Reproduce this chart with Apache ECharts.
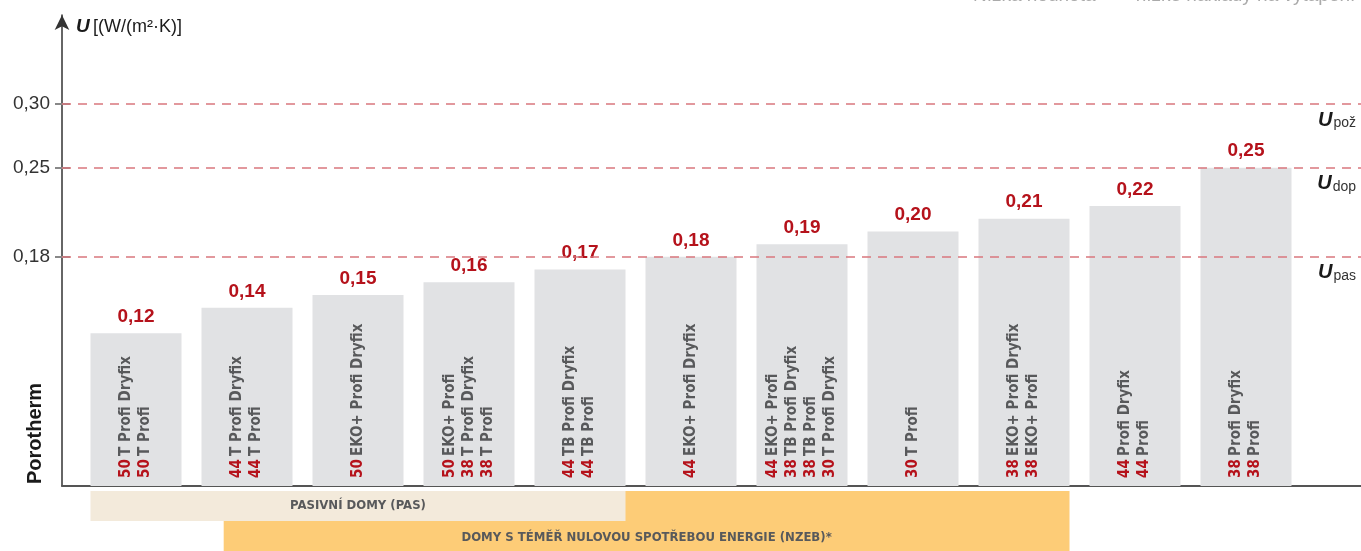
<!DOCTYPE html>
<html>
<head>
<meta charset="utf-8">
<script src="https://cdn.jsdelivr.net/npm/echarts@6/dist/echarts.min.js"></script>
<style>
  html, body { margin: 0; padding: 0; background: #fff; }
  #chart { width: 1361px; height: 551px; }
</style>
</head>
<body>
<div id="chart"></div>
<script>
// data
const categories = [
  '50 T Profi Dryfix\n50 T Profi',
  '44 T Profi Dryfix\n44 T Profi',
  '50 EKO+ Profi Dryfix',
  '50 EKO+ Profi\n38 T Profi Dryfix\n38 T Profi',
  '44 TB Profi Dryfix\n44 TB Profi',
  '44 EKO+ Profi Dryfix',
  '44 EKO+ Profi\n38 TB Profi Dryfix\n38 TB Profi\n30 T Profi Dryfix',
  '30 T Profi',
  '38 EKO+ Profi Dryfix\n38 EKO+ Profi',
  '44 Profi Dryfix\n44 Profi',
  '38 Profi Dryfix\n38 Profi'
];
const uValues = [0.12, 0.14, 0.15, 0.16, 0.17, 0.18, 0.19, 0.20, 0.21, 0.22, 0.25];

const tickValues = [0.18, 0.25, 0.30];
const limitValues = [0.30, 0.25, 0.18];
const limitNames = ['pož', 'dop', 'pas'];

// bands below the axis, in category units
const bandNames = ['DOMY S TÉMĚŘ NULOVOU SPOTŘEBOU ENERGIE (NZEB)*', 'PASIVNÍ DOMY (PAS)'];
const bandFrom = [0.79, -0.41];
const bandTo = [8.41, 4.41];

const RED = '#b5121b';
const GREY_TXT = '#58595b';
const NARROW = '"Liberation Sans Narrow", "DejaVu Sans Condensed", "Roboto", sans-serif';
const SANS = '"Liberation Sans", Arial, sans-serif';

const fmt = v => v.toFixed(2).replace('.', ',');

const catLabel = value =>
  value
    .split('\n')
    .map(line => {
      const i = line.indexOf(' ');
      return `{n|${line.slice(0, i)}} {t|${line.slice(i + 1)}}`;
    })
    .join('\n');

const chart = echarts.init(document.getElementById('chart'));

const yMax = 0.37;

chart.setOption({
  animation: false,
  grid: [
    { left: 80.5, right: 59.5, top: 15, bottom: 65 },
    { left: 62, right: 0, top: 15, bottom: 65 },
    { left: 80.5, right: 59.5, top: 491, bottom: 0 }
  ],
  xAxis: [
    {
      gridIndex: 0,
      type: 'category',
      data: categories,
      z: 5,
      axisLine: { show: false },
      axisTick: { show: false },
      axisLabel: {
        inside: true,
        rotate: 90,
        interval: 0,
        margin: 8,
        align: 'left',
        verticalAlign: 'middle',
        formatter: catLabel,
        rich: {
          n: { color: RED, fontFamily: NARROW, fontWeight: 'bold', fontSize: 15, lineHeight: 19 },
          t: { color: GREY_TXT, fontFamily: NARROW, fontWeight: 'bold', fontSize: 15, lineHeight: 19 }
        }
      }
    },
    {
      gridIndex: 1,
      type: 'value',
      min: 0,
      max: 1,
      axisLine: { show: true, lineStyle: { color: '#555', width: 2 } },
      axisTick: { show: false },
      axisLabel: { show: false },
      splitLine: { show: false }
    },
    {
      gridIndex: 2,
      type: 'value',
      min: -0.5,
      max: 10.5,
      show: false
    }
  ],
  yAxis: [
    { gridIndex: 0, type: 'value', min: 0, max: yMax, show: false },
    {
      gridIndex: 1,
      type: 'value',
      min: 0,
      max: yMax,
      name: '{b|U} {r|[(W/(m²·K)]}',
      nameLocation: 'end',
      nameGap: -12,
      nameTextStyle: {
        align: 'left',
        verticalAlign: 'middle',
        padding: [0, 0, 0, 14],
        rich: {
          b: { fontFamily: SANS, fontWeight: 'bold', fontStyle: 'italic', fontSize: 19, color: '#1a1a1a' },
          r: { fontFamily: SANS, fontSize: 18, color: '#1a1a1a' }
        }
      },
      axisLine: {
        show: true,
        symbol: ['none', 'arrow'],
        symbolSize: [11, 15],
        lineStyle: { color: '#333', width: 1.5 }
      },
      axisTick: {
        show: true,
        length: 7,
        customValues: tickValues,
        lineStyle: { color: '#888', width: 2 }
      },
      axisLabel: {
        customValues: tickValues,
        margin: 12,
        formatter: v => fmt(v),
        fontFamily: SANS,
        fontSize: 19,
        color: '#333'
      },
      splitLine: { show: false }
    },
    {
      gridIndex: 1,
      type: 'value',
      min: 0,
      max: yMax,
      position: 'left',
      axisLine: { show: false },
      axisTick: {
        show: true,
        inside: true,
        length: 8,
        customValues: tickValues,
        lineStyle: { color: '#888', width: 2 }
      },
      axisLabel: { show: false },
      splitLine: { show: false }
    },
    { gridIndex: 2, type: 'value', min: 0, max: 2, inverse: true, show: false }
  ],
  graphic: [
    {
      type: 'text',
      x: 35,
      y: 484,
      rotation: Math.PI / 2,
      style: {
        text: 'Porotherm',
        fontFamily: SANS,
        fontWeight: 'bold',
        fontSize: 20,
        fill: '#1a1a1a',
        textAlign: 'left',
        textVerticalAlign: 'middle'
      }
    },
    {
      type: 'text',
      x: 973,
      y: -14,
      style: {
        text: 'Nízká hodnota  →  nízké náklady na vytápění',
        fontFamily: SANS,
        fontSize: 19,
        fill: '#aaa'
      }
    }
  ],
  series: [
    {
      type: 'bar',
      xAxisIndex: 0,
      yAxisIndex: 0,
      data: uValues,
      barWidth: 91,
      itemStyle: { color: '#e1e2e4' },
      label: {
        show: true,
        position: 'top',
        distance: 7,
        formatter: p => fmt(p.value),
        fontFamily: SANS,
        fontWeight: 'bold',
        fontSize: 19,
        color: RED
      },
      z: 2
    },
    {
      type: 'line',
      xAxisIndex: 1,
      yAxisIndex: 1,
      data: [],
      z: 6,
      markLine: {
        silent: true,
        symbol: ['none', 'none'],
        lineStyle: { color: '#d9777d', type: [9, 7], width: 1.5 },
        label: {
          position: 'insideEndBottom',
          distance: [5, 6],
          formatter: p => `{u|U}{s|${p.name}}`,
          rich: {
            u: { fontFamily: SANS, fontWeight: 'bold', fontStyle: 'italic', fontSize: 20, color: '#1a1a1a' },
            s: { fontFamily: SANS, fontSize: 14, color: '#333', padding: [6, 0, 0, 1] }
          }
        },
        data: limitValues.map((v, i) => ({ yAxis: v, name: limitNames[i] }))
      }
    },
    {
      type: 'custom',
      xAxisIndex: 2,
      yAxisIndex: 3,
      data: bandNames.map((n, i) => [bandFrom[i], bandTo[i], i]),
      renderItem: (params, api) => {
        const i = api.value(2);
        const isPas = i === 1;
        const a = api.coord([api.value(0), 0]);
        const b = api.coord([api.value(1), isPas ? 1 : 2]);
        const labelY = api.coord([0, isPas ? 0.5 : 1.55])[1];
        return {
          type: 'group',
          children: [
            {
              type: 'rect',
              shape: { x: a[0], y: a[1], width: b[0] - a[0], height: b[1] - a[1] },
              style: { fill: isPas ? '#f3eadb' : '#fdcc77' }
            },
            {
              type: 'text',
              x: (a[0] + b[0]) / 2,
              y: labelY,
              style: {
                text: bandNames[i],
                fontFamily: NARROW,
                fontWeight: 'bold',
                fontSize: 13,
                fill: GREY_TXT,
                textAlign: 'center',
                textVerticalAlign: 'middle'
              }
            }
          ]
        };
      }
    }
  ]
});
</script>
</body>
</html>
